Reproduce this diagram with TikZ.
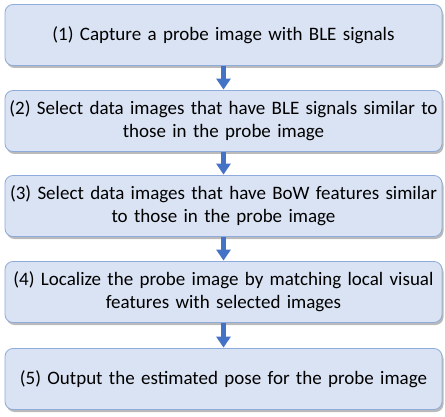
\documentclass[tikz,border=0pt]{standalone}
\usepackage{fontspec}
\setmainfont{Carlito}
\usetikzlibrary{arrows.meta,shadows}
\definecolor{boxfill}{HTML}{DAE3F3}
\definecolor{boxline}{HTML}{8FAADC}
\definecolor{arrowblue}{HTML}{4472C4}
\tikzset{
  stepbox/.style={draw=boxline, line width=0.8pt, fill=boxfill, rounded corners=8pt,
    minimum width=437pt, minimum height=61pt, text width=437pt, inner xsep=0pt, align=center,
    font=\fontsize{19}{23}\selectfont,
    drop shadow={shadow xshift=1.5pt, shadow yshift=-2.5pt, opacity=0.45, fill=black!60}},
  flowarrow/.style={draw=arrowblue, line width=5.5pt, -{Triangle[width=14pt,length=11pt]}, arrowblue, shorten >=0.5pt}
}
\begin{document}
\begin{tikzpicture}[x=1pt,y=1pt]
\useasboundingbox (0,0) rectangle (445,416);
\node[stepbox] (s1) at (223.5,381) {(1) Capture a probe image with BLE signals};
\node[stepbox] (s2) at (223.5,295) {(2) Select data images that have BLE signals similar to\\those in the probe image};
\node[stepbox] (s3) at (223.5,210) {(3) Select data images that have BoW features similar\\to those in the probe image};
\node[stepbox] (s4) at (223.5,124) {(4) Localize the probe image by matching local visual\\features with selected images};
\node[stepbox] (s5) at (223.5,37) {(5) Output the estimated pose for the probe image};
\draw[flowarrow] (s1.south) -- (s2.north);
\draw[flowarrow] (s2.south) -- (s3.north);
\draw[flowarrow] (s3.south) -- (s4.north);
\draw[flowarrow] (s4.south) -- (s5.north);
\end{tikzpicture}
\end{document}
